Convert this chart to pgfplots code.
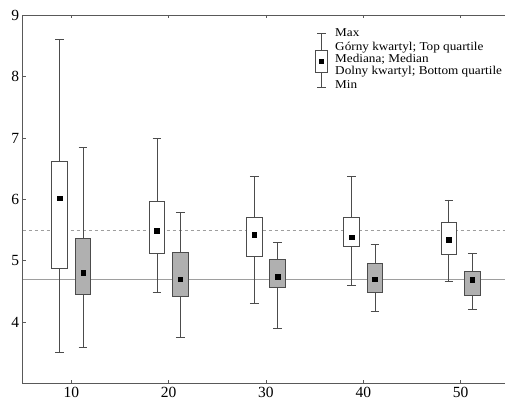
\documentclass[border=0pt]{standalone}
\usepackage{pgfplots}
\pgfplotsset{compat=1.18}
\usetikzlibrary{calc}
\usepackage{fontspec}
\setmainfont{Liberation Serif}
\newfontfamily\legfont[FakeStretch=1.1]{Liberation Serif}

\definecolor{frame}{gray}{0.35}
\definecolor{whisk}{gray}{0.30}
\definecolor{boxgray}{gray}{0.69}
\definecolor{refline}{gray}{0.62}

\begin{document}
\begin{tikzpicture}
\begin{axis}[
    scale only axis,
    width=486.5pt, height=368pt,
    xmin=5, xmax=55,
    ymin=3, ymax=9,
    xtick={10,20,30,40,50},
    ytick={4,5,6,7,8,9},
    tick align=inside,
    major tick length=3pt,
    axis line style={frame, line width=0.8pt},
    tick style={frame, line width=0.6pt},
    tick label style={font=\fontsize{15.5}{16}\selectfont},
    /pgf/number format/assume math mode=true,
    unbounded coords=jump,
    clip=false,
    whisker/.style={whisk, line width=0.8pt, mark=none},
    box/.style={whisk, line width=0.8pt, mark=none, fill=#1},
]
\coordinate (BL) at (rel axis cs:0,0);

% reference lines
\addplot[refline, dashed, line width=0.6pt] coordinates {(5,5.5) (55,5.5)};
\addplot[refline, line width=0.6pt] coordinates {(5,4.7) (55,4.7)};

% ---- 10 ----
\addplot[whisker] coordinates {(8.35,8.61) (9.25,8.61) (8.8,nan) (8.8,8.61) (8.8,3.51) (8.8,nan) (8.35,3.51) (9.25,3.51)};
\addplot[box=white] coordinates {(8.0,4.87) (9.6,4.87) (9.6,6.62) (8.0,6.62)} -- cycle;
\addplot[whisker] coordinates {(10.75,6.84) (11.65,6.84) (11.2,nan) (11.2,6.84) (11.2,3.59) (11.2,nan) (10.75,3.59) (11.65,3.59)};
\addplot[box=boxgray] coordinates {(10.4,4.45) (12.0,4.45) (12.0,5.37) (10.4,5.37)} -- cycle;
% ---- 20 ----
\addplot[whisker] coordinates {(18.35,6.99) (19.25,6.99) (18.8,nan) (18.8,6.99) (18.8,4.49) (18.8,nan) (18.35,4.49) (19.25,4.49)};
\addplot[box=white] coordinates {(18.0,5.11) (19.6,5.11) (19.6,5.96) (18.0,5.96)} -- cycle;
\addplot[whisker] coordinates {(20.75,5.79) (21.65,5.79) (21.2,nan) (21.2,5.79) (21.2,3.75) (21.2,nan) (20.75,3.75) (21.65,3.75)};
\addplot[box=boxgray] coordinates {(20.4,4.41) (22.0,4.41) (22.0,5.13) (20.4,5.13)} -- cycle;
% ---- 30 ----
\addplot[whisker] coordinates {(28.35,6.37) (29.25,6.37) (28.8,nan) (28.8,6.37) (28.8,4.31) (28.8,nan) (28.35,4.31) (29.25,4.31)};
\addplot[box=white] coordinates {(28.0,5.07) (29.6,5.07) (29.6,5.70) (28.0,5.70)} -- cycle;
\addplot[whisker] coordinates {(30.75,5.29) (31.65,5.29) (31.2,nan) (31.2,5.29) (31.2,3.89) (31.2,nan) (30.75,3.89) (31.65,3.89)};
\addplot[box=boxgray] coordinates {(30.4,4.56) (32.0,4.56) (32.0,5.02) (30.4,5.02)} -- cycle;
% ---- 40 ----
\addplot[whisker] coordinates {(38.35,6.37) (39.25,6.37) (38.8,nan) (38.8,6.37) (38.8,4.59) (38.8,nan) (38.35,4.59) (39.25,4.59)};
\addplot[box=white] coordinates {(38.0,5.24) (39.6,5.24) (39.6,5.70) (38.0,5.70)} -- cycle;
\addplot[whisker] coordinates {(40.75,5.27) (41.65,5.27) (41.2,nan) (41.2,5.27) (41.2,4.17) (41.2,nan) (40.75,4.17) (41.65,4.17)};
\addplot[box=boxgray] coordinates {(40.4,4.49) (42.0,4.49) (42.0,4.95) (40.4,4.95)} -- cycle;
% ---- 50 ----
\addplot[whisker] coordinates {(48.35,5.99) (49.25,5.99) (48.8,nan) (48.8,5.99) (48.8,4.66) (48.8,nan) (48.35,4.66) (49.25,4.66)};
\addplot[box=white] coordinates {(48.0,5.10) (49.6,5.10) (49.6,5.63) (48.0,5.63)} -- cycle;
\addplot[whisker] coordinates {(50.75,5.12) (51.65,5.12) (51.2,nan) (51.2,5.12) (51.2,4.21) (51.2,nan) (50.75,4.21) (51.65,4.21)};
\addplot[box=boxgray] coordinates {(50.4,4.43) (52.0,4.43) (52.0,4.83) (50.4,4.83)} -- cycle;

% medians
\addplot[only marks, mark=square*, mark size=2.3pt, black] coordinates {
  (8.8,6.02) (18.8,5.49) (28.8,5.42) (38.8,5.38) (48.8,5.34)
  (11.2,4.80) (21.2,4.70) (31.2,4.74) (41.2,4.70) (51.2,4.69)
};

% legend key
\draw[whisk, line width=0.8pt] (axis cs:35.7,8.71) -- (axis cs:35.7,8.43);
\draw[whisk, line width=0.8pt] (axis cs:35.7,8.075) -- (axis cs:35.7,7.83);
\draw[whisk, line width=0.8pt] (axis cs:35.25,8.71) -- (axis cs:36.15,8.71);
\draw[whisk, line width=0.8pt] (axis cs:35.25,7.83) -- (axis cs:36.15,7.83);
\draw[whisk, line width=0.8pt, fill=white] (axis cs:35.1,8.075) rectangle (axis cs:36.3,8.43);
\fill[black] ($(axis cs:35.7,8.25)+(-2.3pt,-2.3pt)$) rectangle ($(axis cs:35.7,8.25)+(2.3pt,2.3pt)$);
\begin{scope}[every node/.style={anchor=west, inner sep=0pt, font=\legfont\fontsize{12}{12}\selectfont}]
\node at (axis cs:37.1,8.72) {Max};
\node at (axis cs:37.1,8.48) {Górny kwartyl; Top quartile};
\node at (axis cs:37.1,8.285) {Mediana; Median};
\node at (axis cs:37.1,8.085) {Dolny kwartyl; Bottom quartile};
\node at (axis cs:37.1,7.87) {Min};
\end{scope}
\end{axis}
\pgfresetboundingbox
\useasboundingbox ($(BL)+(-22.7pt,-19.7pt)$) rectangle ($(BL)+(482.3pt,383.3pt)$);
\end{tikzpicture}
\end{document}
